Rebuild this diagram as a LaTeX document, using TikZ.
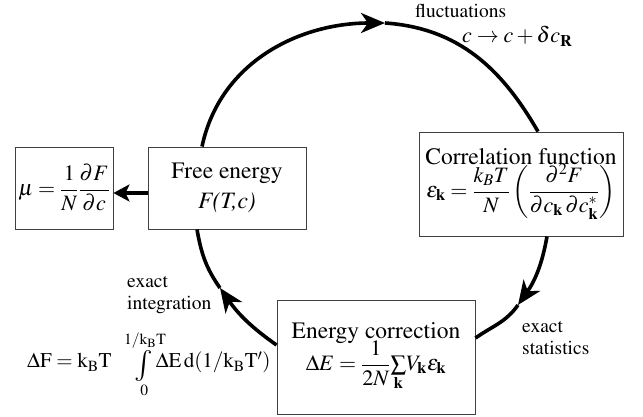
\documentclass[tikz,border=0pt]{standalone}
\usepackage[T1]{fontenc}
\usepackage{amsmath}
\usepackage{mathtools}
\usepackage{mathptmx}
\usetikzlibrary{arrows.meta}

\newcommand{\titlefont}{\fontsize{23.5}{30}\selectfont}
\newcommand{\labelfont}{\fontsize{19.5}{22}\selectfont}
\newcommand{\eqfont}{\fontsize{22}{26}\selectfont}
\newcommand{\bigint}{\mathop{\raisebox{-6pt}{\fontsize{31}{31}\selectfont$\int$}}}
\tikzset{
  box/.style={draw=black!75,line width=0.9pt,inner sep=0pt,align=center},
  cyc/.style={line width=3.6pt},
  lbl/.style={font=\labelfont,align=left,inner sep=0pt}
}

\begin{document}
\begin{tikzpicture}[x=1pt,y=1pt,>={Stealth[length=24pt,width=20pt,inset=7pt]}]
  \useasboundingbox (0,0) rectangle (643,417);
  % boxes
  \node[box,minimum width=98pt,minimum height=82pt,font=\eqfont] (mu) at (64,229)
    {$\displaystyle\mu=\frac{1}{N}\frac{\partial F}{\partial c}$};
  \node[box,minimum width=158pt,minimum height=82pt,font=\titlefont] (free) at (227,229)
    {Free energy\\ \textit{F(T,c)}};
  \node[box,minimum width=204pt,minimum height=104pt,font=\titlefont] (corr) at (521,233)
    {Correlation function\\[-2pt]
     {\eqfont$\displaystyle\varepsilon_{\mathbf k}=\frac{k_BT}{N}\left(\frac{\partial^2F}{\partial c_{\mathbf k}\,\partial c^*_{\mathbf k}}\right)$}};
  \node[box,minimum width=198pt,minimum height=114pt,font=\titlefont] (en) at (376,60)
    {Energy correction\\[-4pt]
     {\eqfont$\displaystyle\Delta E=\frac{1}{2N}{\textstyle\sum\limits_{\mathbf k}}V_{\mathbf k}\varepsilon_{\mathbf k}$}};
  % cycle
  \coordinate (top) at (385,394);
  \coordinate (rarr) at (518,112);
  \coordinate (larr) at (220,129);
  \draw[cyc,->] ([xshift=-25pt]free.north) to[out=78,in=180] (top);
  \draw[cyc] (top) to[out=-4,in=120] ([xshift=17pt]corr.north);
  \draw[cyc,->] ([xshift=26pt]corr.south) to[out=-100,in=55] (rarr);
  \draw[cyc] (rarr) to[out=-125,in=35] ([yshift=19pt]en.east);
  \draw[cyc,->] ([yshift=12pt]en.west) to[out=145,in=-55] (larr);
  \draw[cyc] (larr) to[out=125,in=-80] ([xshift=-30pt]free.south);
  \draw[line width=4.5pt,->,>={Stealth[length=16pt,width=17pt,inset=4pt]}]
    ([yshift=-5pt]free.west) -- ([yshift=-5pt]mu.east);
  % labels
  \node[lbl,anchor=base west] (fluct) at (415,399) {fluctuations};
  \node[lbl,anchor=base west,font=\eqfont] (shift) at (462,374) {$c\to c+\delta c_{\mathbf R}$};
  \node[lbl,anchor=north west] (stat) at (522,96) {exact\\statistics};
  \node[lbl,anchor=north west] (integ) at (127,141) {exact\\integration};
  \node[inner sep=0pt,anchor=base west,font=\fontsize{21}{25}\selectfont] (dF) at (27,49)
    {$\Delta\mathrm{F}=\mathrm{k_BT}\quad\bigint\limits_{\mathclap{0}}^{\mathclap{\,1/\mathrm{k_BT}}}\Delta\mathrm{E}\,\mathrm{d}(1/\mathrm{k_BT'})$};
\end{tikzpicture}
\end{document}
